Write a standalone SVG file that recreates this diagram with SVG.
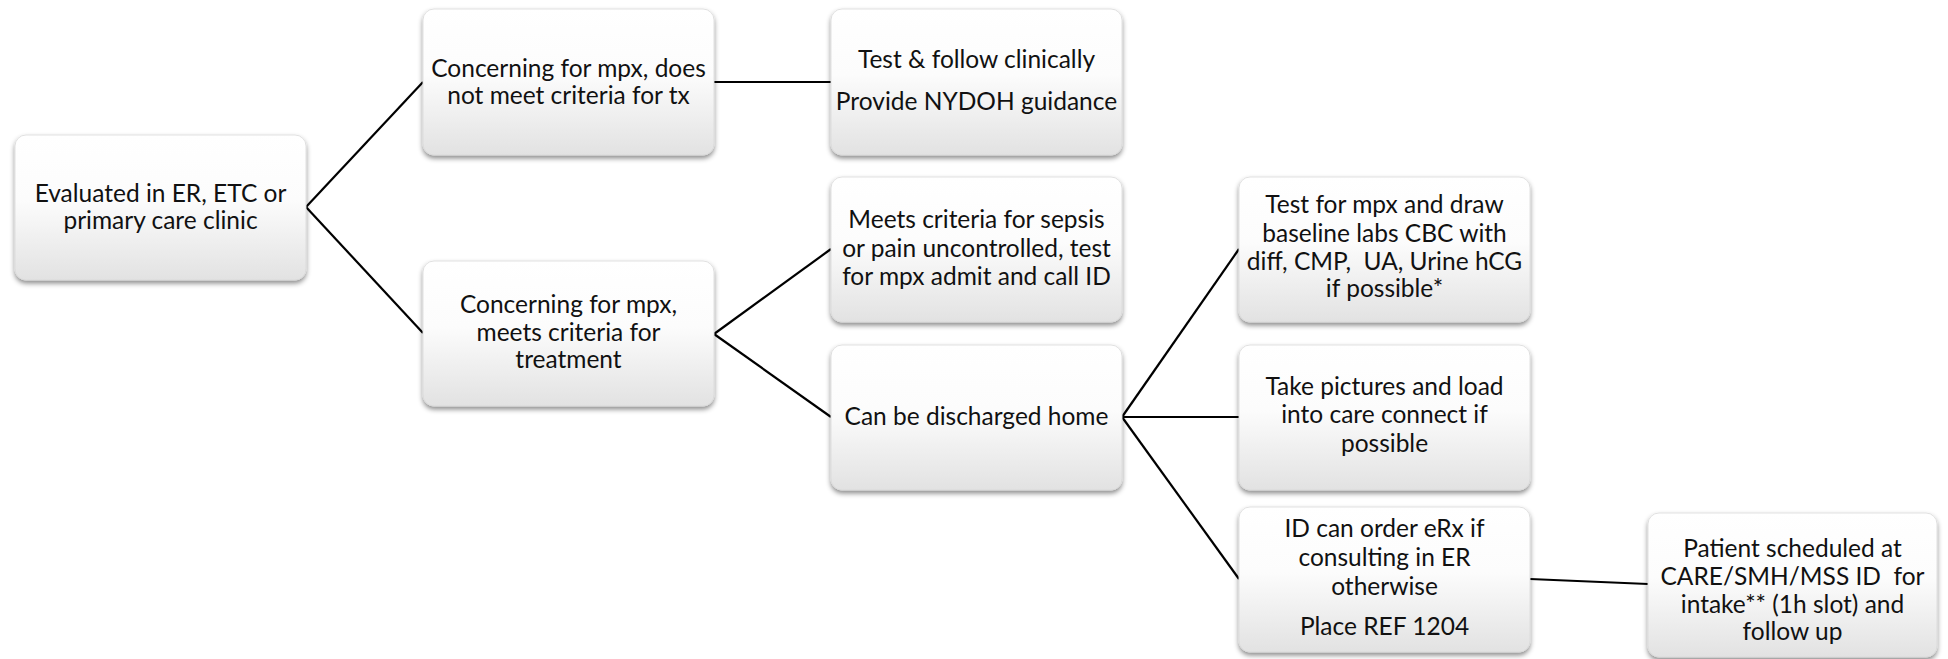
<svg xmlns="http://www.w3.org/2000/svg" width="1948" height="659" viewBox="0 0 1948 659">
<defs>
<linearGradient id="g" x1="0" y1="0" x2="0" y2="1">
<stop offset="0" stop-color="#ffffff"/>
<stop offset="0.45" stop-color="#fcfcfc"/>
<stop offset="1" stop-color="#e2e2e2"/>
</linearGradient>
<filter id="sh" x="-10%" y="-10%" width="120%" height="130%">
<feDropShadow dx="0" dy="3" stdDeviation="2.5" flood-color="#000" flood-opacity="0.45"/>
</filter>
<style>
.box{fill:url(#g);stroke:#d9d9d9;stroke-width:0.8;filter:url(#sh)}
.t{font-family:Lato,"Open Sans","Liberation Sans",sans-serif;font-size:24.5px;fill:#111;text-anchor:middle}
.c{stroke:#000;stroke-width:2.2;fill:none}
</style>
</defs>
<rect width="1948" height="659" fill="#fff"/>
<g id="connectors">
<line class="c" x1="306" y1="207" x2="423" y2="82"/>
<line class="c" x1="306" y1="207" x2="423" y2="333"/>
<line class="c" x1="714" y1="82" x2="831" y2="82"/>
<line class="c" x1="714" y1="334" x2="831" y2="249"/>
<line class="c" x1="714" y1="334" x2="831" y2="417"/>
<line class="c" x1="1122" y1="417" x2="1239" y2="249"/>
<line class="c" x1="1122" y1="417" x2="1239" y2="417"/>
<line class="c" x1="1122" y1="417" x2="1239" y2="579"/>
<line class="c" x1="1530" y1="579" x2="1648" y2="584"/>
</g>
<g id="n1">
<rect class="box" x="15" y="135" width="291" height="145" rx="11"/>
<text class="t" x="160.5" y="202">Evaluated in ER, ETC or</text>
<text class="t" x="160.5" y="229">primary care clinic</text>
</g>
<g id="n2">
<rect class="box" x="423" y="9" width="291" height="146" rx="11"/>
<text class="t" x="568.5" y="77">Concerning for mpx, does</text>
<text class="t" x="568.5" y="104">not meet criteria for tx</text>
</g>
<g id="n3">
<rect class="box" x="831" y="9" width="291" height="146" rx="11"/>
<text class="t" x="976.5" y="68">Test &amp; follow clinically</text>
<text class="t" x="976.5" y="110">Provide NYDOH guidance</text>
</g>
<g id="n4">
<rect class="box" x="423" y="261" width="291" height="145" rx="11"/>
<text class="t" x="568.5" y="313">Concerning for mpx,</text>
<text class="t" x="568.5" y="341">meets criteria for</text>
<text class="t" x="568.5" y="368">treatment</text>
</g>
<g id="n5">
<rect class="box" x="831" y="177" width="291" height="145" rx="11"/>
<text class="t" x="976.5" y="228">Meets criteria for sepsis</text>
<text class="t" x="976.5" y="257">or pain uncontrolled, test</text>
<text class="t" x="976.5" y="285">for mpx admit and call ID</text>
</g>
<g id="n6">
<rect class="box" x="831" y="345" width="291" height="145" rx="11"/>
<text class="t" x="976.5" y="425">Can be discharged home</text>
</g>
<g id="n7">
<rect class="box" x="1239" y="177" width="291" height="145" rx="11"/>
<text class="t" x="1384.5" y="213">Test for mpx and draw</text>
<text class="t" x="1384.5" y="242">baseline labs CBC with</text>
<text class="t" x="1384.5" y="270" xml:space="preserve">diff, CMP,  UA, Urine hCG</text>
<text class="t" x="1384.5" y="297">if possible*</text>
</g>
<g id="n8">
<rect class="box" x="1239" y="345" width="291" height="145" rx="11"/>
<text class="t" x="1384.5" y="395">Take pictures and load</text>
<text class="t" x="1384.5" y="423">into care connect if</text>
<text class="t" x="1384.5" y="452">possible</text>
</g>
<g id="n9">
<rect class="box" x="1239" y="507" width="291" height="145" rx="11"/>
<text class="t" x="1384.5" y="537">ID can order eRx if</text>
<text class="t" x="1384.5" y="566">consulting in ER</text>
<text class="t" x="1384.5" y="595">otherwise</text>
<text class="t" x="1384.5" y="635">Place REF 1204</text>
</g>
<g id="n10">
<rect class="box" x="1648" y="513" width="289" height="144" rx="11"/>
<text class="t" x="1792.5" y="557">Patient scheduled at</text>
<text class="t" x="1792.5" y="585" xml:space="preserve">CARE/SMH/MSS ID  for</text>
<text class="t" x="1792.5" y="613">intake** (1h slot) and</text>
<text class="t" x="1792.5" y="640">follow up</text>
</g>
</svg>
